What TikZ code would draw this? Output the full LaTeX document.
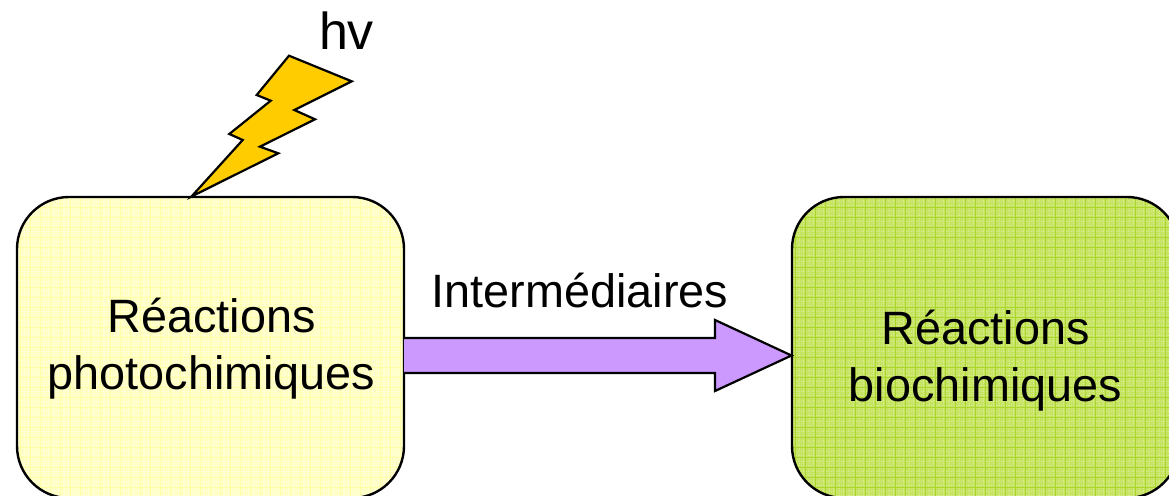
\documentclass[tikz,border=0pt]{standalone}
\usepackage{fontspec}
\setmainfont{Liberation Sans}
\tikzset{
  x=1pt,y=-1pt,
  every node/.style={inner sep=0pt,outer sep=0pt},
  txt/.style={font=\fontsize{46.8}{57}\selectfont,align=center,text=black},
  bigtxt/.style={font=\fontsize{52}{60}\selectfont,text=black},
  box/.style={draw=black,line width=2.4pt,rounded corners=52pt,minimum width=387pt,minimum height=301pt},
  outl/.style={draw=black,line width=2.2pt,line join=miter,miter limit=10},
}
\newcommand{\gridfill}[3]{% base, line colour, speck colour
  \fill[#1] (-200,-160) rectangle (200,160);
  \foreach \i in {-20,...,20}{
    \draw[#3,line width=1pt,dash pattern=on 1.2pt off 1.3pt] (\i*10+3.5,-160) -- (\i*10+3.5,160);
    \draw[#3,line width=1pt,dash pattern=on 1.2pt off 1.3pt] (\i*10+7.5,-160) -- (\i*10+7.5,160);
    \draw[#2,line width=1pt] (\i*10,-160) -- (\i*10,160);
  }
  \foreach \j in {-16,...,16}{
    \draw[#3,line width=1pt,dash pattern=on 1.2pt off 1.3pt] (-200,\j*10+3.5) -- (200,\j*10+3.5);
    \draw[#3,line width=1pt,dash pattern=on 1.2pt off 1.3pt] (-200,\j*10+7.5) -- (200,\j*10+7.5);
    \draw[#2,line width=1pt] (-200,\j*10) -- (200,\j*10);
  }
}
\definecolor{ybase}{HTML}{FFFFC4}
\definecolor{yline}{HTML}{FFFFA8}
\definecolor{yspeck}{HTML}{FFFFE6}
\definecolor{gbase}{HTML}{C6E462}
\definecolor{gline}{HTML}{ABD62C}
\definecolor{gspeck}{HTML}{D8ED92}
\definecolor{bolt}{HTML}{FFCC00}
\definecolor{arrowc}{HTML}{CC99FF}
\begin{document}
\begin{tikzpicture}
\useasboundingbox (0,0) rectangle (1169,495);
\node[box,path picture={\gridfill{ybase}{yline}{yspeck}}] (lbox) at (210.5,347.5) {};
\node[box,path picture={\gridfill{gbase}{gline}{gspeck}}] (rbox) at (985.5,347.5) {};
\coordinate (tip) at (791.5,355.5);
\coordinate (tail) at (lbox.east |- tip);
\coordinate (st) at (tail |- 0,338);
\coordinate (sb) at (tail |- 0,373);
\coordinate (ht) at (715,338);
\coordinate (hb) at (715,373);
\coordinate (bt) at (715,320);
\coordinate (bb) at (715,391);
\draw[outl,fill=arrowc] (st) -- (ht) -- (bt) -- (tip) -- (bb) -- (hb) -- (sb);
\coordinate (strike) at (191.5,196.5);
\draw[outl,fill=bolt] (strike) -- (242.7,140) -- (229.3,134) -- (270.7,100.7) -- (256.7,95) -- (289,55.7) -- (351.7,81.3) -- (294.3,110) -- (315,119.3) -- (260,146.7) -- (278.3,153.3) -- cycle;
\node[txt] (t1) at (211.5,348.5) {Réactions\\photochimiques};
\node[txt] (t2) at (985.5,360.5) {Réactions\\biochimiques};
\node[txt] (t3) at (580,290) {Intermédiaires};
\node[bigtxt] (t4) at (346.5,31) {hv};
\end{tikzpicture}
\end{document}
